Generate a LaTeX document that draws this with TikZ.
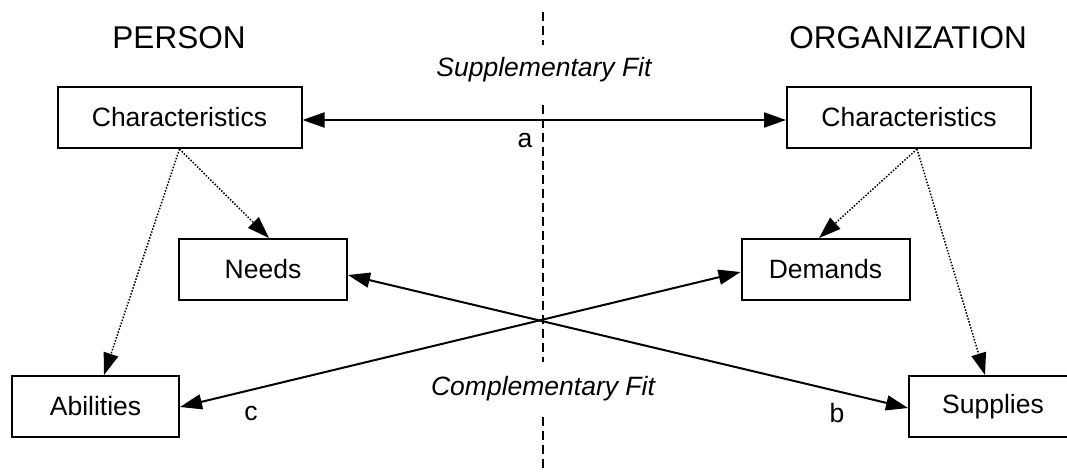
\documentclass[tikz,border=0pt]{standalone}
\usepackage{fontspec}
\setmainfont{Liberation Sans}
\usetikzlibrary{arrows.meta}
\begin{document}
\begin{tikzpicture}[x=1pt,y=-1pt,
  box/.style={draw,line width=2pt,minimum height=61pt,inner sep=0pt,font=\fontsize{26.5}{30}\selectfont},
  lbl/.style={inner sep=0pt,font=\fontsize{26.5}{30}\selectfont},
  head/.style={inner sep=0pt,font=\fontsize{31.5}{36}\selectfont},
  tip/.style={-{Triangle[length=22pt,width=15pt]}},
  both/.style={{Triangle[length=22pt,width=15pt]}-{Triangle[length=22pt,width=15pt]}},
  conn/.style={line width=2pt},
  dot/.style={line width=1.5pt,dash pattern=on 1.5pt off 1.6pt},
  divider/.style={line width=2pt,dash pattern=on 9pt off 5pt}]
\useasboundingbox (0,0) rectangle (1067,472);
% divider
\coordinate (d1) at (543,12);
\coordinate (d2) at (543,45);
\coordinate (d3) at (543,105);
\coordinate (d4) at (543,362);
\coordinate (d5) at (543,417);
\coordinate (d6) at (543,472);
\draw[divider] (d1) -- (d2);
\draw[divider] (d3) -- (d4);
\draw[divider] (d5) -- (d6);
% headings
\node[head] (person) at (179,38) {PERSON};
\node[head] (org) at (908,38) {ORGANIZATION};
\node[lbl] (supfit) at (544,70) {\itshape Supplementary Fit};
\node[lbl] (compfit) at (543,389) {\itshape Complementary Fit};
% boxes
\node[box,minimum width=244pt] (pc) at (179.5,117.5) {Characteristics};
\node[box,minimum width=244pt] (oc) at (909,117.5) {Characteristics};
\node[box,minimum width=168pt] (needs) at (263,269.5) {Needs};
\node[box,minimum width=168pt] (dem) at (825.5,269.5) {Demands};
\node[box,minimum width=167pt] (abil) at (95.5,406.5) {Abilities};
\node[box,minimum width=168pt] (sup) at (993,406.5) {Supplies};
% labels
\node[lbl] (la) at (525,140) {a};
\node[lbl] (lb) at (837,413) {b};
\node[lbl] (lc) at (251,413) {c};
% connectors
\draw[conn,both] ([yshift=-2.5pt]pc.east) -- ([yshift=-2.5pt]oc.west);
\draw[conn,both] ([yshift=-1.5pt]sup.west) -- ([yshift=-5.5pt]needs.east);
\draw[conn,both] ([yshift=-2.5pt]dem.west) -- ([yshift=-0.5pt]abil.east);
\draw[dot,tip] (pc.south) -- ([xshift=6pt]needs.north);
\draw[dot,tip] (pc.south) -- ([xshift=8.5pt]abil.north);
\draw[dot,tip] ([xshift=8pt]oc.south) -- ([xshift=-6.5pt]dem.north);
\draw[dot,tip] ([xshift=8pt]oc.south) -- ([xshift=-8pt]sup.north);
\end{tikzpicture}
\end{document}
